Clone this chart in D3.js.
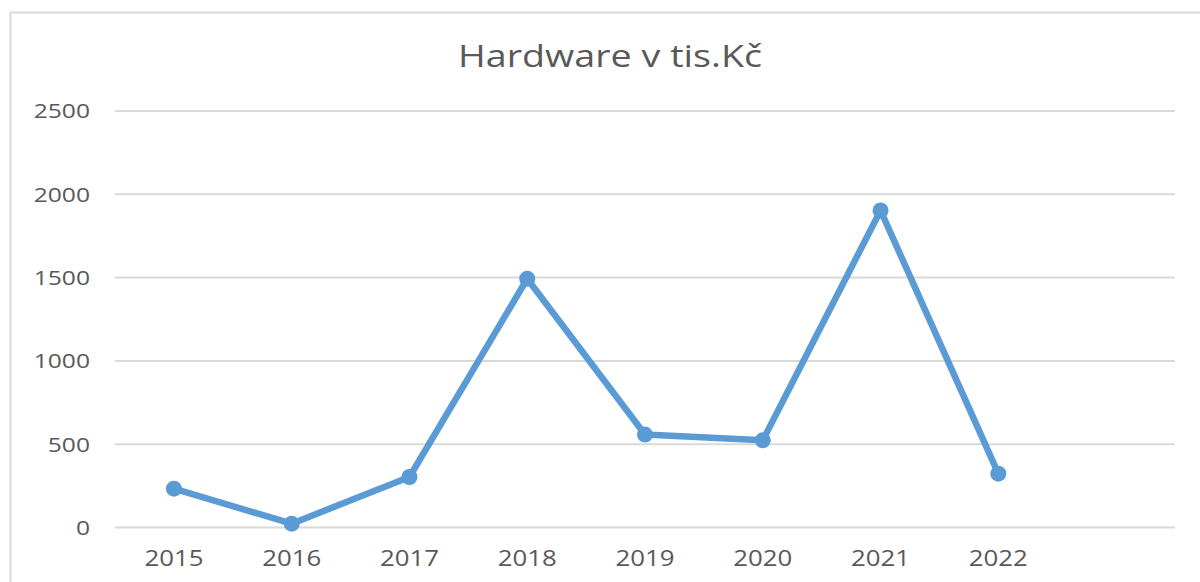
<!DOCTYPE html>
<html>
<head>
<meta charset="utf-8">
<script src="https://cdn.jsdelivr.net/npm/d3@7"></script>
<style>
  html, body { margin: 0; padding: 0; background: #fff; }
  svg { display: block; }
</style>
</head>
<body>
<svg id="chart" width="1200" height="582"></svg>
<script>
const title = "Hardware v tis.Kč";
const categories = ["2015", "2016", "2017", "2018", "2019", "2020", "2021", "2022", ""];
const values = [230, 20, 300, 1490, 555, 520, 1900, 320];
const yTicks = [0, 500, 1000, 1500, 2000, 2500];

const svg = d3.select("#chart");
const W = 1200, H = 582;
const plot = { left: 115, right: 1175, top: 110.5, bottom: 527 };

svg.append("rect").attr("width", W).attr("height", H).attr("fill", "#fff");
// chart area border
svg.append("rect")
  .attr("x", 10.5).attr("y", 12.5)
  .attr("width", 1300).attr("height", 700)
  .attr("fill", "none").attr("stroke", "#d9d9d9").attr("stroke-width", 2);

const x = d3.scaleBand().domain(categories).range([plot.left, plot.right]).padding(0);
const y = d3.scaleLinear().domain([0, 2500]).range([plot.bottom, plot.top]);

const stretch = 1.2;
function stretchText(sel) {
  sel.each(function () {
    const len = this.getComputedTextLength();
    if (len > 0) {
      d3.select(this).attr("textLength", len * stretch).attr("lengthAdjust", "spacingAndGlyphs");
    }
  });
}

// Y axis with gridlines
const yAxis = svg.append("g")
  .attr("transform", `translate(${plot.left},0)`)
  .call(d3.axisLeft(y).tickValues(yTicks).tickSize(-(plot.right - plot.left)).tickPadding(25).tickFormat(d3.format("d")));
yAxis.select(".domain").remove();
yAxis.selectAll(".tick line").attr("stroke", "#d9d9d9").attr("stroke-width", 2);
yAxis.selectAll(".tick text")
  .attr("fill", "#595959")
  .attr("font-family", "'Open Sans', sans-serif")
  .attr("font-size", 20.5)
  .attr("dy", "0.36em")
  .call(stretchText);

// X axis labels
const xAxis = svg.append("g")
  .attr("transform", `translate(0,${plot.bottom})`)
  .call(d3.axisBottom(x).tickSize(0).tickPadding(0));
xAxis.select(".domain").remove();
xAxis.selectAll(".tick text")
  .attr("fill", "#595959")
  .attr("font-family", "'Open Sans', sans-serif")
  .attr("font-size", 21.5)
  .attr("y", 39)
  .attr("dy", 0)
  .call(stretchText);

// Line
const pts = values.map((v, i) => ({ c: categories[i], v }));
const line = d3.line()
  .x(d => x(d.c) + x.bandwidth() / 2)
  .y(d => y(d.v));
svg.append("path")
  .datum(pts)
  .attr("d", line)
  .attr("fill", "none")
  .attr("stroke", "#5b9bd5")
  .attr("stroke-width", 6.5)
  .attr("stroke-linejoin", "round")
  .attr("stroke-linecap", "round");

svg.append("g").selectAll("circle")
  .data(pts)
  .join("circle")
  .attr("cx", d => x(d.c) + x.bandwidth() / 2)
  .attr("cy", d => y(d.v))
  .attr("r", 8)
  .attr("fill", "#5b9bd5");

// Title
svg.append("text")
  .attr("x", 610).attr("y", 67)
  .attr("text-anchor", "middle")
  .attr("fill", "#595959")
  .attr("font-family", "'Open Sans', sans-serif")
  .attr("font-size", 31)
  .attr("textLength", 304)
  .attr("lengthAdjust", "spacingAndGlyphs")
  .text(title);
</script>
</body>
</html>
